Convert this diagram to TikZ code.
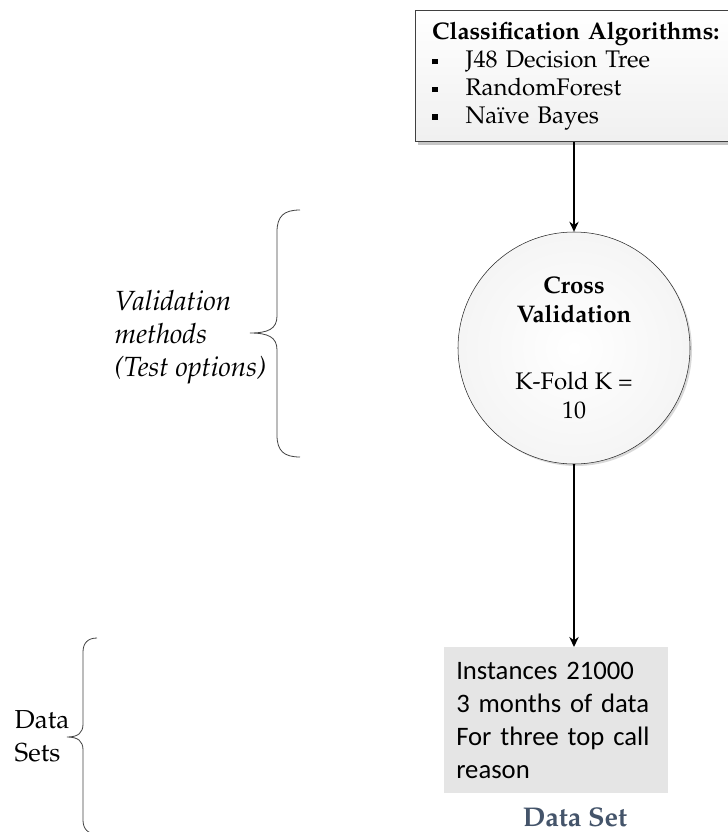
\documentclass[tikz,border=0pt]{standalone}
\usepackage[T1]{fontenc}
\usepackage{fontspec}
\usepackage{tikz}
\usetikzlibrary{positioning, shadows, arrows.meta}
\newfontfamily\calibri{Carlito}
\newcommand\pala{\fontencoding{T1}\fontfamily{ppl}\selectfont}
\definecolor{setblue}{HTML}{44546A}

\begin{document}
\begin{tikzpicture}[x=0.75pt,y=-0.75pt,>={Stealth[length=7.5pt,width=7pt]},
                    conn/.style={->,line width=2.2pt},
                    algbox/.style={rectangle,draw=black!75,top color=white,bottom color=black!6,thick,
                      drop shadow={opacity=0.45,shadow xshift=2pt,shadow yshift=-2pt},
                      align=left,anchor=north west,inner xsep=12.5pt,inner ysep=9pt,
                      text width=250pt,font=\pala\fontsize{18}{20.8}\selectfont},
                    cvnode/.style={circle,draw=black!85,inner color=white,outer color=black!4,
                      drop shadow={opacity=0.3,shadow xshift=1.5pt,shadow yshift=-1.5pt},
                      minimum size=174pt,align=center,
                      font=\pala\fontsize{18}{21.75}\selectfont},
                    databox/.style={rectangle,fill=black!10,anchor=north west,align=left,
                      text width=150pt,inner xsep=9pt,inner ysep=11pt,
                      font=\calibri\fontsize{20}{24.75}\selectfont},
                    sidelabel/.style={align=left,anchor=west,
                      font=\pala\fontsize{19.5}{25}\selectfont},
                    brace/.style={draw=black!75,line width=0.6pt}]

  \useasboundingbox (0,0) rectangle (728,832);
  \clip (0,0) rectangle (728,832);

  \node[algbox] (alg) at (415,10)
    {{\bfseries Classification Algorithms:}\\
     \raisebox{2.5pt}{\rule{4pt}{4pt}}\hspace{21pt}J48 Decision Tree\\
     \raisebox{2.5pt}{\rule{4pt}{4pt}}\hspace{21pt}RandomForest\\
     \raisebox{2.5pt}{\rule{4pt}{4pt}}\hspace{21pt}Na\"{\i}ve Bayes};
  \node[cvnode] (cv) at (574,348)
    {{\bfseries Cross}\\{\bfseries Validation}\\[28pt]K-Fold K =\\10};
  \node[databox] (data) at (444,647)
    {Instances 21000\\3 months of data\\For three top call\\reason};
  \node[font=\pala\bfseries\fontsize{20.3}{22}\selectfont,text=setblue] (dslabel) at (575,817) {Data Set};

  \node[sidelabel,font=\pala\itshape\fontsize{20.8}{24.75}\selectfont] (valtext) at (110,337)
    {Validation\\methods\\(Test options)};
  \node[sidelabel] (settext) at (10,736) {Data\\Sets};

  % connectors
  \draw[conn] (alg.south -| cv.north) -- (cv.north);
  \draw[conn] (cv.south) -- (cv.south |- data.north);

  % braces
  \draw[brace] (300,210) .. controls (284,210) and (277,216) .. (277,232)
    -- (277,316) .. controls (277,329) and (268,333) .. (250,333)
    .. controls (268,333) and (277,337) .. (277,350)
    -- (277,435) .. controls (277,451) and (284,457) .. (300,457);
  \draw[brace] (97,638) .. controls (88,638) and (83,643) .. (83,652)
    -- (83,724) .. controls (83,733) and (78,737) .. (67,737)
    .. controls (78,737) and (83,741) .. (83,750)
    -- (83,820) .. controls (83,829) and (88,834) .. (97,834);
\end{tikzpicture}
\end{document}
